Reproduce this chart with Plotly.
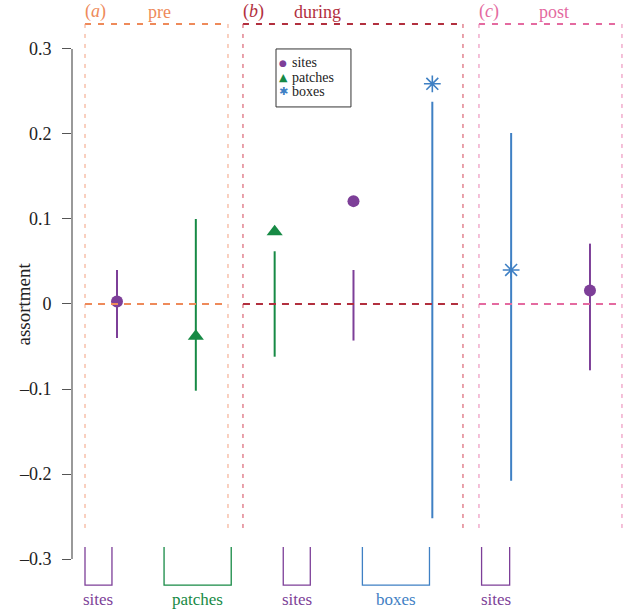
import plotly.graph_objects as go

# ---------------- data ----------------
positions = [1, 2, 3, 4, 5, 6, 7]
groups = ["sites", "patches", "patches", "sites", "boxes", "boxes", "sites"]
observed = [0.003, -0.038, 0.085, 0.121, 0.259, 0.040, 0.016]
ci_low = [-0.040, -0.102, -0.062, -0.043, -0.252, -0.208, -0.078]
ci_high = [0.040, 0.100, 0.062, 0.040, 0.238, 0.201, 0.071]
tick_vals = [-0.3, -0.2, -0.1, 0, 0.1, 0.2, 0.3]
tick_labels = ["\u20130.3", "\u20130.2", "\u20130.1", "0", "0.1", "0.2", "0.3"]
periods = ["pre", "during", "post"]
period_letters = ["a", "b", "c"]
bracket_labels = ["sites", "patches", "sites", "boxes", "sites"]

# ---------------- styles ----------------
FONT = "Liberation Serif, Times New Roman, DejaVu Serif, serif"
colors = {"sites": "#7d3f98", "patches": "#178a45", "boxes": "#3f80c4"}
symbols = {"sites": "circle", "patches": "triangle-up", "boxes": "asterisk-open"}
sizes = {"sites": 12, "patches": 14, "boxes": 14}
period_colors = ["#ee8a5a", "#b22f3e", "#e46aa0"]
period_vcolors = ["#f3a080", "#d24458", "#ea80b2"]

fig = go.Figure()

# CI bars
for g in ["sites", "patches", "boxes"]:
    xs, ys = [], []
    for p, gg, lo, hi in zip(positions, groups, ci_low, ci_high):
        if gg == g:
            xs += [p, p, None]
            ys += [lo, hi, None]
    fig.add_trace(go.Scatter(x=xs, y=ys, mode="lines",
                             line=dict(color=colors[g], width=2),
                             showlegend=False, hoverinfo="skip"))

# observed markers
for g in ["sites", "patches", "boxes"]:
    xs = [p for p, gg in zip(positions, groups) if gg == g]
    ys = [v for v, gg in zip(observed, groups) if gg == g]
    fig.add_trace(go.Scatter(
        x=xs, y=ys, mode="markers", name=g, showlegend=False,
        marker=dict(symbol=symbols[g], size=sizes[g], color=colors[g],
                    line=dict(color=colors[g], width=1.6 if g == "boxes" else 0)),
        cliponaxis=False))

shapes = []
annotations = []

# period boxes (layout geometry)
box_x = [(0.594, 2.408), (2.598, 5.389), (5.592, 7.406)]
box_top, box_bot = 0.3294, -0.2694
for i, (x0, x1) in enumerate(box_x):
    c, vc = period_colors[i], period_vcolors[i]
    shapes.append(dict(type="line", x0=x0, x1=x1, y0=box_top, y1=box_top,
                       xref="x", yref="y", line=dict(color=c, width=2, dash="6px,7px")))
    for xv in (x0, x1):
        shapes.append(dict(type="line", x0=xv, x1=xv, y0=box_top, y1=box_bot,
                           xref="x", yref="y", line=dict(color=vc, width=1, dash="4px,6px")))
    shapes.append(dict(type="line", x0=x0, x1=x1, y0=0, y1=0,
                       xref="x", yref="y", line=dict(color=c, width=1.8, dash="7px,6px")))
    annotations.append(dict(x=x0 + 0.13, y=0.3435, xref="x", yref="y",
                            text="(<i>%s</i>)" % period_letters[i], showarrow=False,
                            font=dict(family=FONT, size=18, color=c)))
    annotations.append(dict(x=x0 + 0.95, y=0.3435, xref="x", yref="y",
                            text=periods[i], showarrow=False,
                            font=dict(family=FONT, size=18, color=c)))

# bottom brackets
br_x = [(0.594, 0.936), (1.597, 2.449), (3.109, 3.452), (4.113, 4.964), (5.625, 5.981)]
br_top, br_bot = -0.2859, -0.3306
for (x0, x1), lab in zip(br_x, bracket_labels):
    c = colors[lab]
    shapes.append(dict(type="path",
                       path="M %f,%f L %f,%f L %f,%f L %f,%f" % (x0, br_top, x0, br_bot, x1, br_bot, x1, br_top),
                       xref="x", yref="y", line=dict(color=c, width=1.3)))
    annotations.append(dict(x=(x0 + x1) / 2, y=-0.3475, xref="x", yref="y",
                            text=lab, showarrow=False,
                            font=dict(family=FONT, size=17, color=c)))

# y axis line
shapes.append(dict(type="line", x0=0, x1=0, xref="paper", y0=-0.3, y1=0.3, yref="y",
                   line=dict(color="#555555", width=1.2)))

# legend box
shapes.append(dict(type="rect", x0=3.017, x1=3.968, y0=0.2318, y1=0.300,
                   xref="x", yref="y", line=dict(color="#333333", width=1),
                   fillcolor="white"))
leg_glyph = {"sites": "\u25CF", "patches": "\u25B2", "boxes": "\u2731"}
leg_gsize = {"sites": 9, "patches": 11, "boxes": 11}
for j, g in enumerate(["sites", "patches", "boxes"]):
    yv = 0.2835 - j * 0.0165
    annotations.append(dict(x=3.106, y=yv, xref="x", yref="y", text=leg_glyph[g],
                            showarrow=False, font=dict(family="DejaVu Sans", size=leg_gsize[g], color=colors[g])))
    annotations.append(dict(x=3.20, y=yv, xref="x", yref="y", text=g, xanchor="left",
                            showarrow=False, font=dict(family=FONT, size=14, color="#222222")))

# y title
annotations.append(dict(x=(11 - 72) / 551.0, y=0, xref="paper", yref="y", text="assortment",
                        textangle=-90, showarrow=False,
                        font=dict(family=FONT, size=19, color="#222222")))

fig.update_layout(
    width=623, height=609,
    margin=dict(l=72, r=0, t=0, b=0),
    plot_bgcolor="white", paper_bgcolor="white",
    shapes=shapes, annotations=annotations,
    showlegend=False,
    font=dict(family=FONT),
    xaxis=dict(range=[0.4291, 7.419], visible=False, fixedrange=True),
    yaxis=dict(range=[-0.3588, 0.3576], tickvals=tick_vals, ticktext=tick_labels,
               ticks="outside", ticklen=9, tickcolor="#555555", tickwidth=1.2,
               showline=False, showgrid=False, zeroline=False,
               ticklabelstandoff=7,
               tickfont=dict(family=FONT, size=18, color="#222222")),
)

fig.write_html("out.html", config={"displayModeBar": False},
               post_script="document.body.style.margin='0';document.body.style.overflow='hidden';")
